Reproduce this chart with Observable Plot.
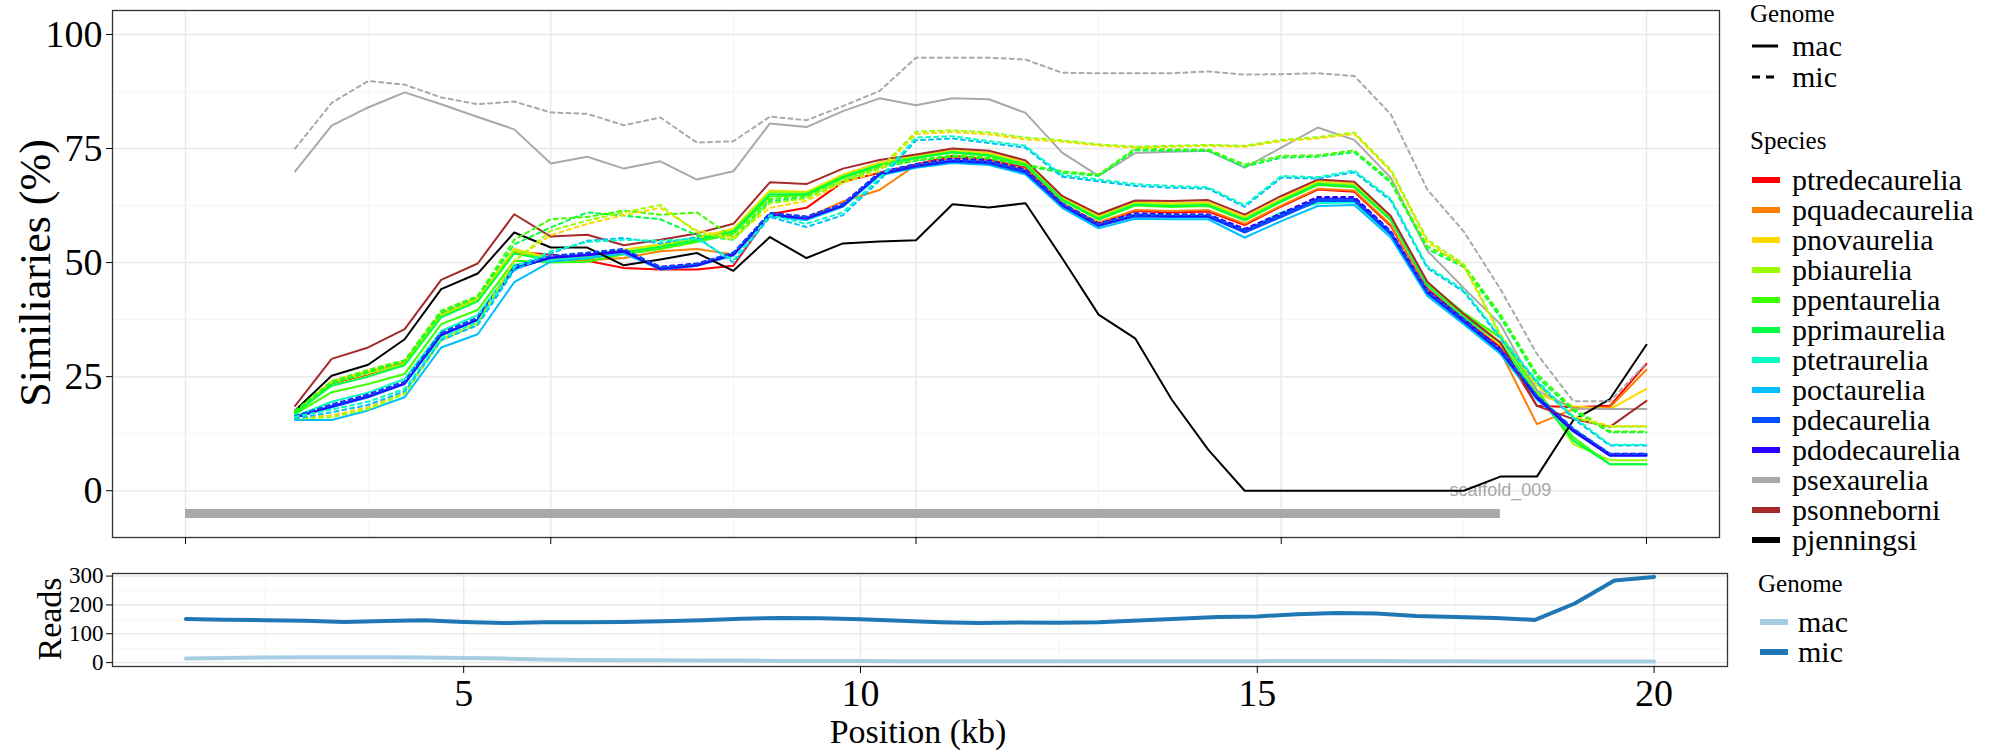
<!DOCTYPE html>
<html>
<head>
<meta charset="utf-8">
<script src="https://cdn.jsdelivr.net/npm/d3@7"></script>
<script src="https://cdn.jsdelivr.net/npm/@observablehq/plot@0.6"></script>
<style>
  body { margin: 0; background: #fff; }
  #fig { position: relative; width: 2000px; height: 750px; overflow: hidden; font-family: "Liberation Serif", serif; color: #000; }
  .abs { position: absolute; white-space: nowrap; line-height: 1; }
</style>
</head>
<body>
<div id="fig">
  <div id="top" class="abs" style="left:0;top:0"></div>
  <div id="bot" class="abs" style="left:0;top:560px"></div>
</div>
<script>
// ---------- data ----------
const positions = [1.5,2,2.5,3,3.5,4,4.5,5,5.5,6,6.5,7,7.5,8,8.5,9,9.5,10,10.5,11,11.5,12,12.5,13,13.5,14,14.5,15,15.5,16,16.5,17,17.5,18,18.5,19,19.5,20];

const speciesNames = ["ptredecaurelia","pquadecaurelia","pnovaurelia","pbiaurelia","ppentaurelia","pprimaurelia","ptetraurelia","poctaurelia","pdecaurelia","pdodecaurelia","psexaurelia","psonneborni","pjenningsi"];
const speciesColors = ["#FF0000","#FF7F00","#FFD700","#9BFF00","#3CFF00","#00FF44","#00FFC0","#00BFFF","#0050FF","#2A00FF","#A9A9A9","#A52A2A","#000000"];
const genomeNames = ["mac","mic"];
const readsColors = ["#A6CEE3","#1F78B4"];

const ptredecaurelia_mac = [17,23.5,25.5,28,38.5,41.8,52.3,51.8,50.4,48.8,48.5,48.5,49.3,60.6,62,67.7,69.7,71.5,73.4,72.6,70.8,63,58.5,61.3,61,61.2,58.2,62.3,66,65.5,58,44.3,37.5,31.5,18.6,18.3,18.6,27.8];
const pquadecaurelia_mac = [17,23.8,25.8,28,38.5,42,52.5,50.5,50.5,51,52.5,53,51.8,60.6,59.8,63.4,65.9,71.4,73,72.3,70.5,62.8,58.8,61.5,61.3,61.5,58.5,62.5,66.2,65.8,58.3,44,37,30.5,14.6,17.9,18.3,26.5];
const pnovaurelia_mac = [17.2,24,26.2,28.4,39,42.3,53,51,51.5,52.8,54,55.5,57.4,65.8,65.5,69.3,71.9,73.4,74.6,74,72,64.3,60.2,63.2,63,63.2,60,64,67.8,67.3,59.8,45.3,38.2,32,21.2,18.5,17.9,22.3];
const pbiaurelia_mac = [17,23.6,25.7,27.8,38.5,41.8,52.6,50.8,51.2,52.5,53.7,55.2,57.1,65.5,65.3,69,71.6,73.2,74.4,73.7,71.7,64,59.9,63,62.7,62.9,59.7,63.7,67.5,67,59.6,45.6,38.7,33.5,22,10.2,6.7,6.7];
const ppentaurelia_mac = [16.8,21.6,23.4,25.6,36.5,39.6,50.4,50,50.2,51.8,53,54.5,56.3,64.5,64.8,68.5,71.3,72.9,74.1,73.4,71.3,63.6,59.4,62.5,62.2,62.4,59.2,63.3,67,66.5,59.3,45.5,39,33.6,22,11.7,5.8,5.8];
const pprimaurelia_mac = [17,23,25,27.5,38,41.5,52,50.5,50.8,52.2,53.4,54.9,56.8,65,65,68.8,71.4,73,74.2,73.5,71.5,63.8,59.6,62.7,62.4,62.6,59.4,63.5,67.2,66.7,59.4,45,38,32.5,21,11,5.8,5.8];
const ptetraurelia_mac = [16.3,19.5,21.5,24.5,35,38.5,49.5,50.5,51.5,52.2,49,49.6,51.8,60.4,59.6,62.4,69.3,71,72.1,71.7,69.7,62.2,58,60.6,60.2,60.3,57,61,63,63.2,56,43,36.5,30,20,13.5,8,8];
const poctaurelia_mac = [15.5,15.5,17.6,20.5,31.4,34.3,45.7,50.2,51,52,48.5,49.3,51.5,60.2,59.3,62.2,69.1,70.8,71.8,71.4,69.3,62,57.5,59.6,59.5,59.5,55.5,59.1,62.4,62.6,55.5,42.7,36.5,30,20,13,7.7,7.7];
const pdecaurelia_mac = [16.1,18.3,20.5,23.4,34,37.4,48.6,51.1,51.8,52.6,48.5,49.3,51.8,60.4,59.6,62.4,69.3,71,72.1,71.7,69.7,62.5,58,60.1,60,60,56.6,60,63.5,63.5,56.2,43.3,37,30.5,20.5,13.2,7.7,7.7];
const pdodecaurelia_mac = [16,18.5,20.7,23.5,34.2,37.5,48.8,51,51.6,52.4,48.7,49.4,51.7,60.5,59.7,62.5,69.4,71.2,72.4,72,70,62.6,58.2,60.4,60.2,60.2,57,60.4,64,64,56.5,43.5,37.2,30.7,20.3,13,7.7,7.7];
const psexaurelia_mac = [70,80,84,87.3,84.7,81.9,79.2,71.7,73.2,70.6,72.2,68.2,70,80.5,79.7,83.2,86,84.5,86,85.8,82.8,74.1,69,74,74.3,74.5,70.8,75.2,79.6,76.9,68.6,52.6,44.4,36.5,22,18,17.9,17.9];
const psonneborni_mac = [18.6,28.9,31.4,35.4,46.2,49.8,60.6,55.7,56.1,53.8,55,56.4,58.5,67.6,67.2,70.6,72.5,73.7,75,74.5,72.4,64.6,60.6,63.6,63.5,63.7,60.5,64.6,68.2,67.7,60.2,45.8,38.7,32.5,18.6,15.7,14,19.7];
const pjenningsi_mac = [17.6,25.2,27.6,33.2,44.2,47.6,56.6,53.3,53.3,49.4,50.7,52.1,48.2,55.6,51,54.2,54.6,54.9,62.8,62.1,63,51,38.6,33.4,20,9,0,0,0,0,0,0,0,3.1,3.1,15.5,20.1,32];

const pnovaurelia_mic = [16,16.5,18.3,21.5,33.3,36.8,50.5,56,58.5,60.4,62,57,55.5,62,63.5,67.5,70,78.2,78.6,78.1,77,76.5,75.7,75.2,75.4,75.6,75.4,76.6,77.2,78.2,70,54.5,49.2,34,23,16.3,14.2,14.2];
const pbiaurelia_mic = [15.8,16.1,17.9,21.2,32.9,36.5,50.2,57,59.2,61,62.6,56.6,55,63,64,68,70.5,78.7,79,78.5,77.4,76.8,75.9,75.4,75.6,75.8,75.6,76.9,77.5,78.5,70.4,55,49.7,34.3,23.4,16,14,14];
const ppentaurelia_mic = [17.5,24,26.5,28.6,39.5,42.7,55,59.5,60,61.4,60.5,61,55.5,63.9,64.6,67.9,71,72.5,73.5,73,71.5,70,69.3,75,74.8,74.8,71.5,73.4,73.5,74.6,67.9,53.6,49.5,38.7,25.6,18,13,13];
const pprimaurelia_mic = [17.3,23.5,26,28.4,39,42.5,54,57.7,61,60.3,59.5,56,55,63.5,64.2,67.5,70.8,72.3,73.3,72.8,71.2,69.7,69,74.6,74.5,74.5,71,73,73.2,74.2,67.5,53,49,38,25,17.5,12.8,12.8];
const ptetraurelia_mic = [16.2,17.8,19.5,22.3,33.5,37,49,52.5,54.5,55,54.8,55.2,50.5,60.4,58.5,61,68.5,77.4,77.7,76.6,75.6,69.2,68.2,67.2,66.8,66.5,62.6,69,68.7,70.2,64,49.2,44,33.8,24.2,16.2,10.1,10.1];
const poctaurelia_mic = [15.8,17.2,18.8,21.8,33,36.3,48.3,52,54.8,55.4,54.2,55.6,50,60,57.8,60.4,68,76.8,77.2,76.2,75.2,68.8,67.8,66.8,66.4,66.2,62.2,68.6,68.4,69.8,63.6,48.8,43.6,33.4,23.8,15.8,9.9,9.9];
const pdecaurelia_mic = [16.4,18.8,20.9,23.8,34.5,37.9,49.1,51.5,52.2,53,48.9,49.7,52.2,60.8,60,62.8,69.7,71.4,72.5,72.1,70.1,62.9,58.4,60.5,60.4,60.4,57,60.4,63.9,63.9,56.6,43.7,37.4,30.9,20.9,13.6,8.1,8.1];
const pdodecaurelia_mic = [16.3,18.9,21.1,23.9,34.6,37.9,49.2,51.4,52,52.8,49.1,49.8,52.1,60.9,60.1,62.9,69.8,71.6,72.8,72.4,70.4,63,58.6,60.8,60.6,60.6,57.4,60.8,64.4,64.4,56.9,43.9,37.6,31.1,20.7,13.4,8.1,8.1];
const psexaurelia_mic = [75,85,89.8,89,86.2,84.7,85.3,82.9,82.6,80.1,81.8,76.3,76.6,82,81.2,84.3,87.6,94.9,94.9,94.9,94.5,91.6,91.5,91.5,91.5,91.9,91.2,91.3,91.5,90.9,82.5,66,56.8,44.2,30,19.6,19.6,28];

const reads_mac = [14,16,18,19,19,19,18,16,14,11,9,8,8,7,7,6,6,6,5,5,5,5,5,5,5,5,5,5,6,6,6,5,5,4,4,4,4,4];
const reads_mic = [151,149,147,145,141,144,147,141,137,140,140,141,143,147,152,155,154,150,145,140,137,139,138,140,146,152,158,160,168,172,170,162,158,155,148,205,285,297];

const scaffoldName = "scaffold_009";
const scaffoldStart = 0;
const scaffoldEnd = 18;
const scaffoldLevel = -5;

const topXTicks = [0,5,10,15,20];
const topXMinor = [2.5,7.5,12.5,17.5];
const topYTicks = [0,25,50,75,100];
const topYMinor = [12.5,37.5,62.5,87.5];
const botXTicks = [5,10,15,20];
const botXMinor = [2.5,7.5,12.5,17.5];
const botYTicks = [0,100,200,300];
const botYMinor = [50,150,250];

// ---------- build tables ----------
const macArrays = [ptredecaurelia_mac,pquadecaurelia_mac,pnovaurelia_mac,pbiaurelia_mac,ppentaurelia_mac,pprimaurelia_mac,ptetraurelia_mac,poctaurelia_mac,pdecaurelia_mac,pdodecaurelia_mac,psexaurelia_mac,psonneborni_mac,pjenningsi_mac];
const micArrays = [null,null,pnovaurelia_mic,pbiaurelia_mic,ppentaurelia_mic,pprimaurelia_mic,ptetraurelia_mic,poctaurelia_mic,pdecaurelia_mic,pdodecaurelia_mic,psexaurelia_mic,null,null];

function rowsFrom(arrs, genome) {
  const out = [];
  arrs.forEach((a, k) => {
    if (!a) return;
    a.forEach((v, i) => out.push({species: speciesNames[k], genome, pos: positions[i], val: v}));
  });
  return out;
}
const macRows = rowsFrom(macArrays, "mac");
const micRows = rowsFrom(micArrays, "mic");
// draw the blue mic lines first so the cyan ones stay visible on top
const micOrder = ["pdodecaurelia","pdecaurelia","psexaurelia","pprimaurelia","ppentaurelia","pnovaurelia","pbiaurelia","poctaurelia","ptetraurelia"];
micRows.sort((a, b) => micOrder.indexOf(a.species) - micOrder.indexOf(b.species));

const readsRows = [];
[reads_mac, reads_mic].forEach((a, k) => a.forEach((v, i) => readsRows.push({genome: genomeNames[k], pos: positions[i], val: v})));

const gridMajor = {stroke: "#e9e9e9", strokeWidth: 1.5};
const gridMinor = {stroke: "#f2f2f2", strokeWidth: 0.8};

// ---------- top panel ----------
const topPlot = Plot.plot({
  width: 1730, height: 560,
  marginLeft: 112, marginRight: 11, marginTop: 10, marginBottom: 23,
  style: {fontFamily: "Liberation Serif", fontSize: "38px", color: "#000", background: "transparent", overflow: "visible"},
  x: {domain: [-1, 21], label: null},
  y: {domain: [-10.25, 105.25], label: null},
  color: {domain: speciesNames, range: speciesColors},
  marks: [
    Plot.ruleX(topXMinor, gridMinor),
    Plot.ruleY(topYMinor, gridMinor),
    Plot.ruleX(topXTicks, gridMajor),
    Plot.ruleY(topYTicks, gridMajor),
    Plot.ruleY([{y: scaffoldLevel, a: scaffoldStart, b: scaffoldEnd}], {y: "y", x1: "a", x2: "b", stroke: "#A8A8A8", strokeWidth: 9}),
    Plot.text([{name: scaffoldName, x: scaffoldEnd, y: 0}], {x: "x", y: "y", text: "name", fill: "#A8A8A8", fontSize: 18, fontFamily: "Liberation Sans"}),
    Plot.line(macRows, {x: "pos", y: "val", z: "species", stroke: "species", strokeWidth: 2}),
    Plot.line(micRows, {x: "pos", y: "val", z: "species", stroke: "species", strokeWidth: 2, strokeDasharray: "4,4"}),
    Plot.frame({stroke: "#333", strokeWidth: 1.3}),
    Plot.axisY({ticks: topYTicks, tickSize: 6, tickPadding: 4, label: null, fontSize: 38}),
    Plot.axisX({ticks: topXTicks, tickFormat: () => "", tickSize: 7, label: null})
  ]
});
document.getElementById("top").append(topPlot);

// ---------- bottom panel ----------
const botPlot = Plot.plot({
  width: 1740, height: 190,
  marginLeft: 112, marginRight: 13, marginTop: 13, marginBottom: 84,
  style: {fontFamily: "Liberation Serif", fontSize: "38px", color: "#000", background: "transparent", overflow: "visible"},
  x: {domain: [0.575, 20.925], label: null},
  y: {domain: [-13.5, 309], label: null},
  color: {domain: genomeNames, range: readsColors},
  marks: [
    Plot.ruleX(botXMinor, gridMinor),
    Plot.ruleY(botYMinor, gridMinor),
    Plot.ruleX(botXTicks, gridMajor),
    Plot.ruleY(botYTicks, gridMajor),
    Plot.line(readsRows, {x: "pos", y: "val", z: "genome", stroke: "genome", strokeWidth: 4}),
    Plot.frame({stroke: "#333", strokeWidth: 1.3}),
    Plot.axisY({ticks: botYTicks, tickSize: 6, tickPadding: 3, label: null, fontSize: 23}),
    Plot.axisX({ticks: botXTicks, tickSize: 7, tickPadding: 6, label: null, fontSize: 38})
  ]
});
document.getElementById("bot").append(botPlot);

// ---------- titles & legends (HTML) ----------
const fig = document.getElementById("fig");
function label(text, x, cy, size, opts = {}) {
  const d = document.createElement("div");
  d.className = "abs";
  d.textContent = text;
  d.style.fontSize = size + "px";
  d.style.left = x + "px";
  d.style.top = cy + "px";
  d.style.transform = opts.transform || "translateY(-50%)";
  if (opts.color) d.style.color = opts.color;
  fig.append(d);
  return d;
}
function key(x, cy, w, color, width, dash) {
  const ns = "http://www.w3.org/2000/svg";
  const s = document.createElementNS(ns, "svg");
  s.setAttribute("width", w); s.setAttribute("height", 14);
  s.style.position = "absolute"; s.style.left = x + "px"; s.style.top = (cy - 7) + "px";
  const l = document.createElementNS(ns, "line");
  l.setAttribute("x1", 0); l.setAttribute("x2", w); l.setAttribute("y1", 7); l.setAttribute("y2", 7);
  l.setAttribute("stroke", color); l.setAttribute("stroke-width", width);
  if (dash) l.setAttribute("stroke-dasharray", dash);
  s.append(l); fig.append(s);
}

// axis titles
label("Similiaries (%)", 36, 273, 44, {transform: "translate(-50%,-50%) rotate(-90deg)"});
label("Reads", 50, 619, 34, {transform: "translate(-50%,-50%) rotate(-90deg)"});
label("Position (kb)", 918, 732, 34, {transform: "translate(-50%,-50%)"});

// top legend: genome
label("Genome", 1750, 13, 25);
genomeNames.forEach((g, k) => {
  const cy = 46 + 31 * k;
  key(1752, cy, 26, "#000", 3, g === "mic" ? "8,6" : null);
  label(g, 1792, cy, 30);
});
// top legend: species
label("Species", 1750, 140, 25);
speciesNames.forEach((s, k) => {
  const cy = 180 + 30 * k;
  key(1752, cy, 28, speciesColors[k], 6, null);
  label(s, 1792, cy, 30);
});
// bottom legend
label("Genome", 1758, 583, 25);
genomeNames.forEach((g, k) => {
  const cy = 622 + 30 * k;
  key(1760, cy, 28, readsColors[k], 6, null);
  label(g, 1798, cy, 30);
});
</script>
</body>
</html>
